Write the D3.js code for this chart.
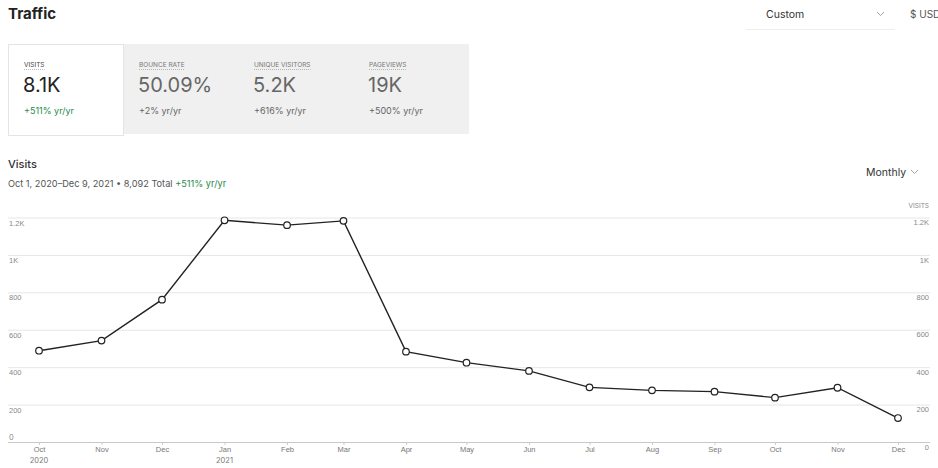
<!DOCTYPE html>
<html><head><meta charset="utf-8">
<script src="https://cdn.jsdelivr.net/npm/d3@7"></script>
<style>
body{margin:0;background:#fff;font-family:Inter,"Liberation Sans",Arial,sans-serif;}
svg{display:block;}
</style></head>
<body>
<svg id="c" width="938" height="468"></svg>
<script>
const months = ["2020-10-01","2020-11-01","2020-12-01","2021-01-01","2021-02-01","2021-03-01","2021-04-01","2021-05-01","2021-06-01","2021-07-01","2021-08-01","2021-09-01","2021-10-01","2021-11-01","2021-12-01"];
const visits = [488, 542, 761, 1185, 1159, 1182, 483, 424, 380, 292, 276, 269, 237, 290, 128];
const yTicks = [0, 200, 400, 600, 800, 1000, 1200];
const yTickLabels = ["0","200","400","600","800","1K","1.2K"];
const monthLabels = ["Oct","Nov","Dec","Jan","Feb","Mar","Apr","May","Jun","Jul","Aug","Sep","Oct","Nov","Dec"];
const metricNames = ["VISITS","BOUNCE RATE","UNIQUE VISITORS","PAGEVIEWS"];
const metricValues = ["8.1K","50.09%","5.2K","19K"];
const metricChanges = ["+511% yr/yr","+2% yr/yr","+616% yr/yr","+500% yr/yr"];

const svg = d3.select("#c");
const parse = d3.timeParse("%Y-%m-%d");
const data = months.map((m,i)=>({date:parse(m), v:visits[i]}));

// Header
svg.append("text").attr("x",8).attr("y",19).attr("font-size",15).attr("font-weight",700).attr("fill","#222").text("Traffic");
svg.append("text").attr("x",766).attr("y",18).attr("font-size",10.5).attr("fill","#333").text("Custom");
svg.append("path").attr("d","M877,12 l3.5,3.5 l3.5,-3.5").attr("fill","none").attr("stroke","#999").attr("stroke-width",0.9);
svg.append("line").attr("x1",746).attr("x2",895).attr("y1",29.5).attr("y2",29.5).attr("stroke","#eee");
svg.append("text").attr("x",910).attr("y",18).attr("font-size",10).attr("fill","#555").text("$ USD");

// Metric cards
svg.append("rect").attr("x",8).attr("y",44).attr("width",461).attr("height",90).attr("fill","#f0f0f0");
svg.append("rect").attr("x",8.5).attr("y",44.5).attr("width",115).attr("height",91).attr("fill","#fff").attr("stroke","#e4e4e4");
const colX = [24,139,254,369];
metricNames.forEach((n,i)=>{
  const g = svg.append("g").attr("transform",`translate(${colX[i]},0)`);
  const t = g.append("text").attr("x",0).attr("y",67).attr("font-size",6.5).attr("fill", i===0?"#444":"#777").text(n);
  const w = t.node().getComputedTextLength();
  g.append("line").attr("x1",0).attr("x2",w).attr("y1",69.5).attr("y2",69.5).attr("stroke","#999").attr("stroke-width",0.7).attr("stroke-dasharray","1,1");
  g.append("text").attr("x",-1).attr("y",92).attr("font-size",20).attr("fill", i===0?"#222":"#666").text(metricValues[i]);
  g.append("text").attr("x",0).attr("y",114).attr("font-size",9).attr("fill", i===0?"#1f8a4c":"#666").text(metricChanges[i]);
});

// Chart title
svg.append("text").attr("x",8).attr("y",168).attr("font-size",11).attr("font-weight",500).attr("fill","#333").text("Visits");
const sub = svg.append("text").attr("x",8).attr("y",187).attr("font-size",9.2).attr("fill","#555");
sub.append("tspan").text("Oct 1, 2020\u2013Dec 9, 2021 \u2022 8,092 Total ");
sub.append("tspan").attr("fill","#1f8a4c").text("+511% yr/yr");
svg.append("text").attr("x",866).attr("y",176).attr("font-size",10.5).attr("fill","#333").text("Monthly");
svg.append("path").attr("d","M911,170 l3.5,3.5 l3.5,-3.5").attr("fill","none").attr("stroke","#999").attr("stroke-width",0.9);
svg.append("text").attr("x",929).attr("y",208).attr("text-anchor","end").attr("font-size",6.5).attr("fill","#888").text("VISITS");

// Scales
const x = d3.scaleTime().domain([data[0].date, data[data.length-1].date]).range([39, 898]);
const y = d3.scaleLinear().domain([0,1200]).range([442, 217.5]);

// gridlines & y labels (left and right)
const yAxisL = d3.axisRight(y).tickValues(yTicks.slice(1)).tickSize(922).tickFormat((d,i)=>yTickLabels[i+1]);
const gl = svg.append("g").attr("transform","translate(8,0)").call(yAxisL);
gl.select(".domain").remove();
gl.selectAll(".tick line").attr("stroke","#e6e6e6");
gl.selectAll(".tick text").attr("x",1).attr("dy","1.0em").attr("text-anchor","start").attr("font-size",7.5).attr("fill","#888").attr("font-family","inherit");

const yAxisR = d3.axisLeft(y).tickValues(yTicks).tickSize(0).tickFormat((d,i)=>yTickLabels[i]);
const gr = svg.append("g").attr("transform","translate(929,0)").call(yAxisR);
gr.select(".domain").remove();
gr.selectAll(".tick text").attr("x",0).attr("dy","0.95em").attr("text-anchor","end").attr("font-size",7.5).attr("fill","#888").attr("font-family","inherit");
// left zero label
svg.append("text").attr("x",9).attr("y",y(0)-2).attr("font-size",7.5).attr("fill","#888").text(yTickLabels[0]);

// x axis
const xAxis = d3.axisBottom(x).tickValues(data.map(d=>d.date)).tickSize(3).tickFormat((d,i)=>monthLabels[i]);
const gx = svg.append("g").attr("transform",`translate(0,${y(0)})`).call(xAxis);
gx.select(".domain").remove();
svg.append("line").attr("x1",8).attr("x2",930).attr("y1",y(0)+0.5).attr("y2",y(0)+0.5).attr("stroke","#c8c8c8");
gx.selectAll(".tick line").attr("stroke","#ccc");
gx.selectAll(".tick text").attr("y",5).attr("font-size",7.5).attr("fill","#777").attr("font-family","inherit");
svg.append("text").attr("x",x(data[0].date)).attr("y",463).attr("text-anchor","middle").attr("font-size",7.5).attr("fill","#777").text("2020");
svg.append("text").attr("x",x(data[3].date)).attr("y",463).attr("text-anchor","middle").attr("font-size",7.5).attr("fill","#777").text("2021");

// line
svg.append("path").datum(data)
  .attr("d", d3.line().x(d=>x(d.date)).y(d=>y(d.v)))
  .attr("fill","none").attr("stroke","#222").attr("stroke-width",1.4);
svg.selectAll("circle.pt").data(data).join("circle").attr("class","pt")
  .attr("cx",d=>x(d.date)).attr("cy",d=>y(d.v)).attr("r",3.3)
  .attr("fill","#fff").attr("stroke","#222").attr("stroke-width",1.2);
</script>
</body></html>
